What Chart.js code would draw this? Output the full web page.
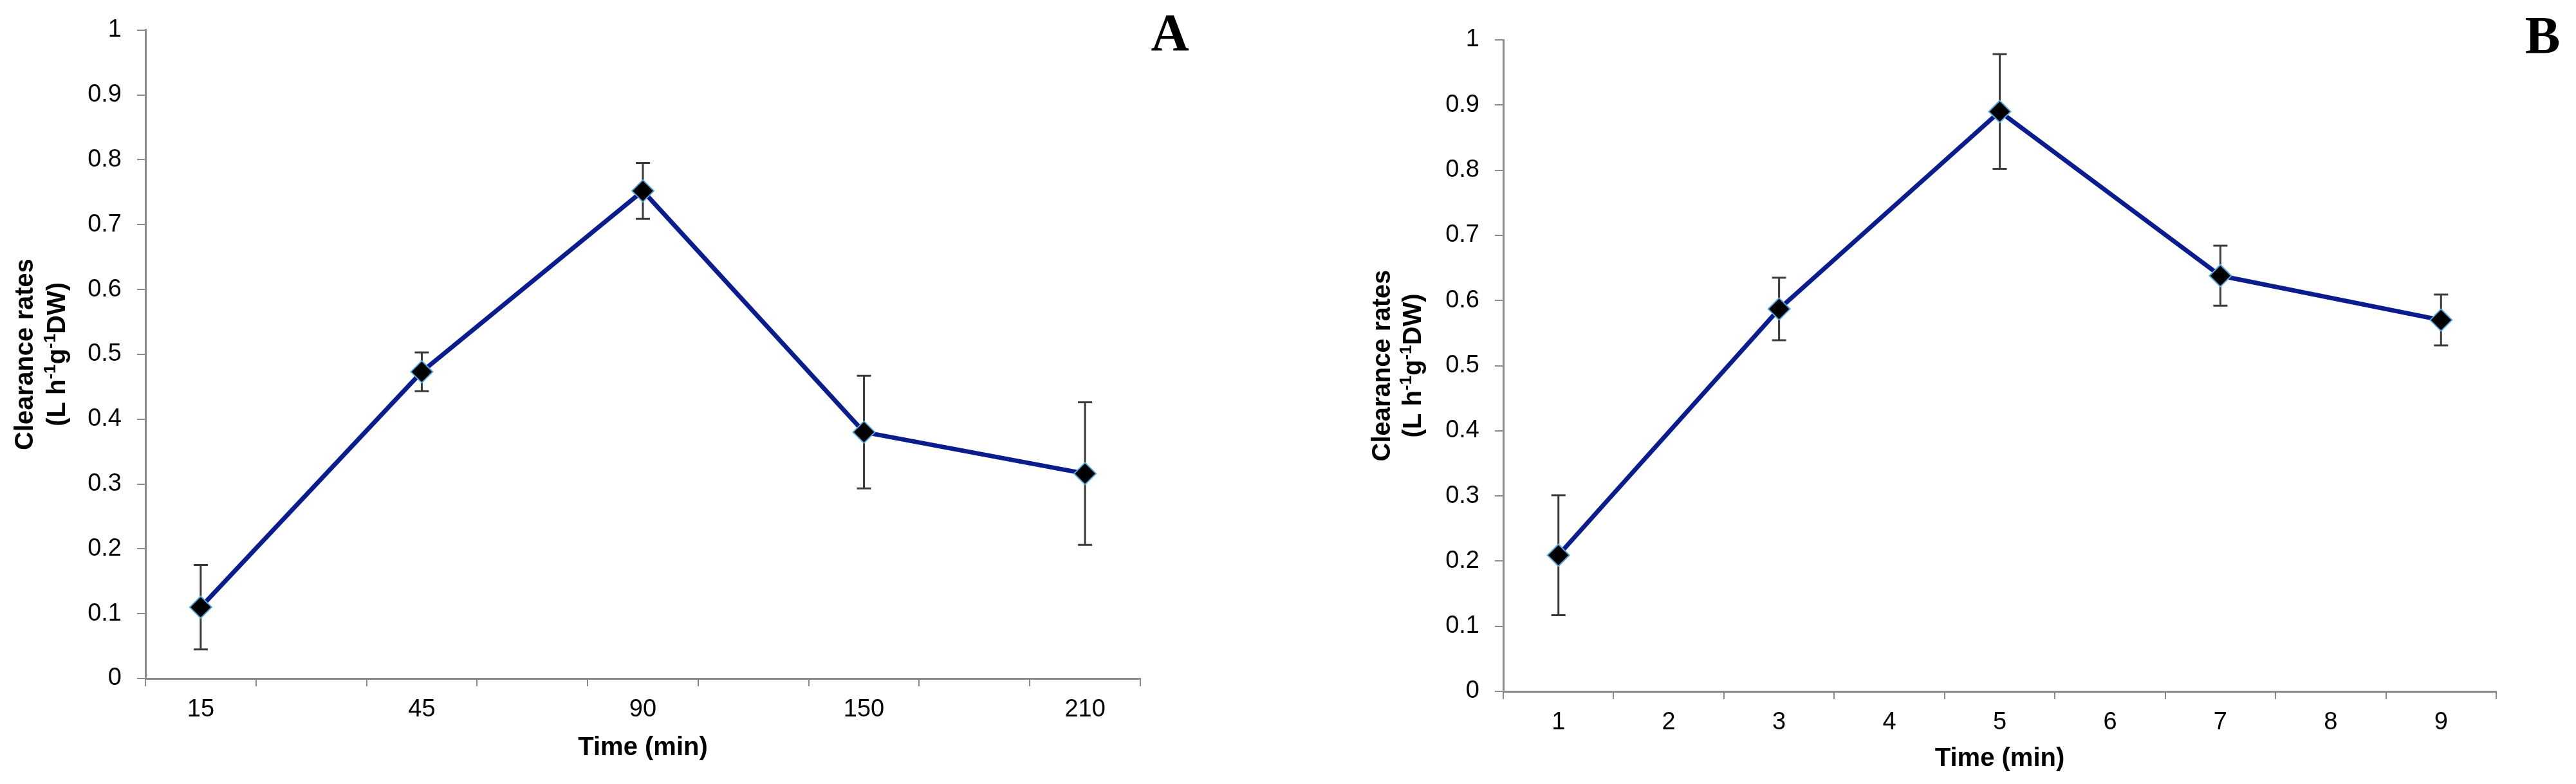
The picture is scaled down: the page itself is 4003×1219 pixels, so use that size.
<!DOCTYPE html>
<html>
<head>
<meta charset="utf-8">
<script src="https://cdn.jsdelivr.net/npm/chart.js@4.4.1/dist/chart.umd.min.js"></script>
<style>
	body { margin: 0; background: #fff; }
	#wrap { position: relative; width: 4003px; height: 1219px; }
	#chartA { position: absolute; left: 0; top: 0; }
	#chartB { position: absolute; left: 2000px; top: 0; }
</style>
</head>
<body>
<div id="wrap">
	<canvas id="chartA" width="2000" height="1219"></canvas>
	<canvas id="chartB" width="2003" height="1219"></canvas>
</div>
<script>
/*  Data  */

let timeA = ['15', '', '45', '', '90', '', '150', '', '210'];
let rateA = [0.11, null, 0.473, null, 0.752, null, 0.38, null, 0.316];
let errA = [0.065, null, 0.03, null, 0.043, null, 0.087, null, 0.11];

let timeB = ['1', '2', '3', '4', '5', '6', '7', '8', '9'];
let rateB = [0.209, null, 0.587, null, 0.89, null, 0.638, null, 0.57];
let errB = [0.092, null, 0.048, null, 0.088, null, 0.046, null, 0.039];

let yTicks = ['0', '0.1', '0.2', '0.3', '0.4', '0.5', '0.6', '0.7', '0.8', '0.9', '1'];

let xTitle = 'Time (min)';
let yTitle1 = 'Clearance rates';
let yTitle2 = [['(L h', false], ['-1', true], ['g', false], ['-1', true], ['DW)', false]];

let sans = '"Liberation Sans", Arial, sans-serif';
let serif = '"Liberation Serif", "Times New Roman", serif';

/* Error bars drawn under the line and markers */
var errorBars = {
	id: 'errorBars',
	beforeDatasetsDraw: function (chart, args, opts) {
		let ctx = chart.ctx;
		let xs = chart.scales.x, ys = chart.scales.y;
		ctx.save();
		ctx.strokeStyle = opts.color;
		ctx.lineWidth = opts.width;
		for (let i = 0; i < opts.values.length; i++) {
			let v = opts.values[i], e = opts.errors[i];
			if (v === null || e === null) continue;
			let px = xs.getPixelForValue(i);
			let top = ys.getPixelForValue(v + e);
			let bot = ys.getPixelForValue(v - e);
			ctx.beginPath();
			ctx.moveTo(px, top); ctx.lineTo(px, bot);
			ctx.moveTo(px - opts.cap, top); ctx.lineTo(px + opts.cap, top);
			ctx.moveTo(px - opts.cap, bot); ctx.lineTo(px + opts.cap, bot);
			ctx.stroke();
		}
		ctx.restore();
	}
};

/* Rotated two line y title with superscripts, plus the panel letter */
var decorations = {
	id: 'decorations',
	afterDraw: function (chart, args, opts) {
		let ctx = chart.ctx;
		let ys = chart.scales.y;
		let mid = (ys.top + ys.bottom) / 2;
		ctx.save();
		ctx.fillStyle = '#000';
		ctx.translate(opts.titleX, mid);
		ctx.rotate(-Math.PI / 2);
		ctx.textBaseline = 'alphabetic';
		ctx.textAlign = 'center';
		ctx.font = 'bold 40px ' + sans;
		ctx.fillText(yTitle1, 0, 14);

		// second line: measure the pieces first, then lay them out
		let big = 'bold 40px ' + sans, small = 'bold 26px ' + sans;
		let total = 0;
		yTitle2.forEach(function (p) {
			ctx.font = p[1] ? small : big;
			total += ctx.measureText(p[0]).width;
		});
		let cx = -total / 2;
		ctx.textAlign = 'left';
		yTitle2.forEach(function (p) {
			ctx.font = p[1] ? small : big;
			ctx.fillText(p[0], cx, opts.lineGap + 14 - (p[1] ? 15 : 0));
			cx += ctx.measureText(p[0]).width;
		});
		ctx.restore();

		ctx.save();
		ctx.fillStyle = '#000';
		ctx.font = 'bold 82px ' + serif;
		ctx.textAlign = 'center';
		ctx.textBaseline = 'alphabetic';
		ctx.fillText(opts.letter, opts.letterX, opts.letterY);
		ctx.restore();
	}
};

function makeChart(id, labels, values, errors, lay) {
	let ctx = document.getElementById(id).getContext('2d');
	return new Chart(ctx, {
		type: 'line',
		data: {
			labels: labels,
			datasets: [{
				data: values,
				borderColor: '#0b1c8c',
				borderWidth: 7,
				tension: 0,
				spanGaps: true,
				pointStyle: 'rectRot',
				pointRadius: 17,
				pointBackgroundColor: '#000',
				pointBorderColor: '#5aa6dc',
				pointBorderWidth: 2
			}]
		},
		options: {
			responsive: false,
			animation: false,
			devicePixelRatio: 1,
			layout: {
				padding: { left: 0, right: lay.padRight, top: lay.padTop, bottom: 0 }
			},
			plugins: {
				legend: { display: false },
				tooltip: { enabled: false },
				errorBars: { values: values, errors: errors, color: '#3a3a3a', width: 3, cap: 11 },
				decorations: lay.deco
			},
			scales: {
				x: {
					type: 'category',
					offset: true,
					afterFit: function (scale) { scale.height = lay.xHeight; },
					grid: { offset: true, drawOnChartArea: false, tickLength: 12, color: '#8a8a8a', lineWidth: 2 },
					border: { color: '#8a8a8a', width: 3 },
					ticks: {
						autoSkip: false, maxRotation: 0, padding: 14,
						color: '#000', font: { family: sans, size: 38 }
					},
					title: {
						display: true, text: xTitle, color: '#000',
						font: { family: sans, size: 40, weight: 'bold' },
						padding: { top: 0, bottom: lay.titlePad }
					}
				},
				y: {
					min: 0,
					max: 1,
					afterFit: function (scale) { scale.width = lay.yWidth; },
					grid: { drawOnChartArea: false, tickLength: 13, color: '#8a8a8a', lineWidth: 2 },
					border: { color: '#8a8a8a', width: 3 },
					ticks: {
						stepSize: 0.1, padding: 24, color: '#000',
						font: { family: sans, size: 38 },
						callback: function (v, i) { return yTicks[i]; }
					}
				}
			}
		},
		plugins: [errorBars, decorations]
	});
}

makeChart('chartA', timeA, rateA, errA, {
	yWidth: 226, xHeight: 164, padRight: 228, padTop: 41, titlePad: 32,
	deco: { titleX: 37, lineGap: 50, letter: 'A', letterX: 1818, letterY: 78 }
});

makeChart('chartB', timeB, rateB, errB, {
	yWidth: 336, xHeight: 144, padRight: 124, padTop: 62, titlePad: 15,
	deco: { titleX: 146, lineGap: 48, letter: 'B', letterX: 1951, letterY: 82 }
});
</script>
</body>
</html>
